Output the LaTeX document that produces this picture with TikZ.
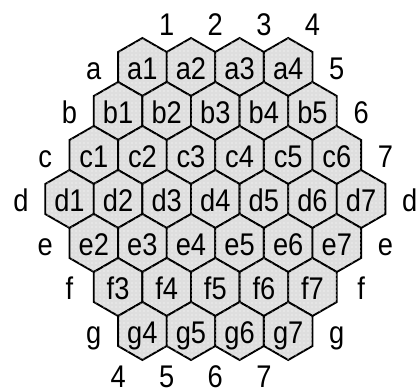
\documentclass[tikz,border=0pt]{standalone}
\usepackage{fontspec}
\setmainfont{Liberation Sans}[FakeStretch=0.87]
\usepackage{tikz}
\usetikzlibrary{patterns}

\begin{document}
\begin{tikzpicture}[
  x=0.75pt, y=-0.75pt,
  cell/.style={draw=black, line width=1.4pt, line join=miter, fill=black!13,
               postaction={pattern=dots, pattern color=white}},
  celltext/.style={font=\fontsize{23.5}{23.5}\selectfont, inner sep=0pt, anchor=base},
  rimtext/.style={font=\fontsize{23.5}{23.5}\selectfont, inner sep=0pt, anchor=base},
]
  \useasboundingbox (0,0) rectangle (419,387);

  % board cells, row by row
  \foreach \row/\lo/\hi [count=\i from 0] in {a/1/4, b/1/5, c/1/6, d/1/7, e/2/7, f/3/7, g/4/7} {
    \foreach \n in {\lo,...,\hi} {
      \pgfmathsetmacro{\cx}{69.5+(\n-1)*48.6+(3-\i)*24.3}
      \pgfmathsetmacro{\cy}{67+\i*44}
      \draw[cell] (\cx,\cy) +(0,-29) -- +(24.3,-15) -- +(24.3,15) -- +(0,29)
        -- +(-24.3,15) -- +(-24.3,-15) -- cycle;
      \node[celltext] (\row\n) at (\cx,\cy+12) {\row\n};
    }
  }

  % coordinates round the rim
  \foreach \i/\n/\t [count=\k] in {-1/1/1, -1/2/2, -1/3/3, -1/4/4,
      0/5/5, 1/6/6, 2/7/7, 3/8/d, 4/8/e, 5/8/f, 6/8/g,
      7/4/4, 7/5/5, 7/6/6, 7/7/7,
      0/0/a, 1/0/b, 2/0/c, 3/0/d, 4/1/e, 5/2/f, 6/3/g} {
    \pgfmathsetmacro{\cx}{69.5+(\n-1)*48.6+(3-\i)*24.3}
    \pgfmathsetmacro{\cy}{67+\i*44}
    \node[rimtext] (rim\k) at (\cx,\cy+12) {\t};
  }
\end{tikzpicture}
\end{document}
